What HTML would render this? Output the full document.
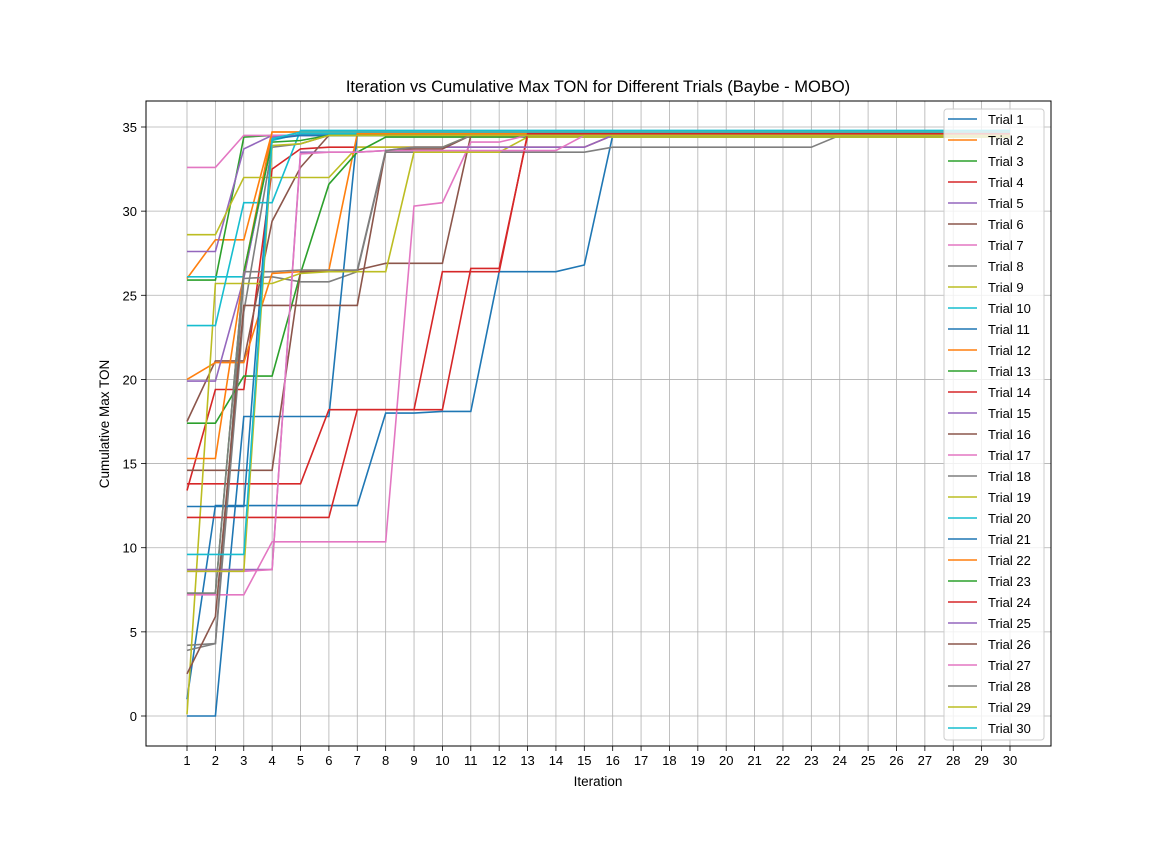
<!DOCTYPE html>
<html><head><meta charset="utf-8">
<style>
body{margin:0;background:#fff;}
svg text{font-family:"Liberation Sans","DejaVu Sans",sans-serif;}
</style></head>
<body>
<svg id="chart" width="1168" height="838" xmlns="http://www.w3.org/2000/svg">
<rect width="1168" height="838" fill="#fff"/>
<text x="598" y="92" font-size="16.5" text-anchor="middle">Iteration vs Cumulative Max TON for Different Trials (Baybe - MOBO)</text>
<text x="598" y="786" font-size="13.5" text-anchor="middle">Iteration</text>
<text x="109" y="424" font-size="13.5" text-anchor="middle" transform="rotate(-90 109 424)">Cumulative Max TON</text>
<g id="grid"></g><g id="lines"></g><g id="axes"></g><g id="legend"></g>
</svg>
<script>
const iterations = Array.from({length:30},(_,i)=>i+1);
const yTicks = [0,5,10,15,20,25,30,35];
const trialNames = Array.from({length:30},(_,i)=>'Trial '+(i+1));
const t1 = [1.0,12.5,12.5,12.5,12.5,12.5,12.5,18.0,18.0,18.1,18.1,26.4,26.4,26.4,26.8,34.5];
const t2 = [26.0,28.3,28.3,34.7,34.7];
const t3 = [25.9,25.9,34.4,34.5];
const t4 = [13.4,19.4,19.4,32.5,33.7,33.8,33.8,33.8,33.8,33.8,33.8,33.8,33.8,33.8,33.8,34.5];
const t5 = [27.6,27.6,33.7,34.5];
const t6 = [17.5,21.1,21.1,29.4,32.6,34.5];
const t7 = [32.6,32.6,34.5,34.5];
const t8 = [4.2,4.3,26.0,26.1,25.8,25.8,26.4,33.5,33.5,33.5,33.5,33.5,33.5,33.5,33.5,33.8,33.8,33.8,33.8,33.8,33.8,33.8,33.8,34.5];
const t9 = [28.6,28.6,32.0,32.0,32.0,32.0,33.8,33.8,33.8,33.8,34.5];
const t10 = [26.1,26.1,26.1,34.2,34.6];
const t11 = [0.0,0.0,17.8,17.8,17.8,17.8,34.6];
const t12 = [20.0,21.0,21.0,26.3,26.4,26.5,34.6];
const t13 = [17.4,17.4,20.2,20.2,26.3,31.6,33.5,34.4];
const t14 = [13.8,13.8,13.8,13.8,13.8,18.2,18.2,18.2,18.2,18.2,26.6,26.6,34.5];
const t15 = [19.9,19.9,26.0,34.4,34.5];
const t16 = [14.6,14.6,14.6,14.6,26.4,26.4,26.5,26.9,26.9,26.9,34.5];
const t17 = [7.2,7.2,7.2,10.35,10.35,10.35,10.35,10.35,30.3,30.5,34.1,34.1,34.5];
const t18 = [3.9,4.3,24.0,33.8,34.0,34.5];
const t19 = [0.1,25.7,25.7,25.7,26.3,26.4,26.4,26.4,33.5,33.5,33.5,33.5,34.4];
const t20 = [23.2,23.2,30.5,30.5,34.8];
const t21 = [12.45,12.45,12.45,34.3,34.5];
const t22 = [15.3,15.3,26.3,34.7];
const t23 = [7.3,7.3,26.4,34.1,34.2,34.5];
const t24 = [11.8,11.8,11.8,11.8,11.8,11.8,18.2,18.2,18.2,26.4,26.4,26.4,34.6];
const t25 = [8.7,8.7,8.7,8.7,33.5,33.5,33.5,33.6,33.8,33.8,33.8,33.8,33.8,33.8,33.8,34.5];
const t26 = [2.5,5.9,24.4,24.4,24.4,24.4,24.4,33.6,33.7,33.7,34.5];
const t27 = [8.6,8.6,8.6,8.7,33.4,33.5,33.5,33.6,33.6,33.6,33.6,33.6,33.6,33.6,34.5];
const t28 = [7.3,7.3,26.4,26.4,26.5,26.5,26.5,33.6,33.8,33.8,34.5];
const t29 = [8.6,8.6,8.6,33.9,34.0,34.5];
const t30 = [9.6,9.6,9.6,34.3,34.7];
const series = [t1,t2,t3,t4,t5,t6,t7,t8,t9,t10,t11,t12,t13,t14,t15,t16,t17,t18,t19,t20,t21,t22,t23,t24,t25,t26,t27,t28,t29,t30];
const colors = ['#1f77b4','#ff7f0e','#2ca02c','#d62728','#9467bd','#8c564b','#e377c2','#7f7f7f','#bcbd22','#17becf'];

const NS='http://www.w3.org/2000/svg';
const L=146,R=1051,T=101,B=746;
const xS=v=>187+(v-1)*(1010-187)/29;
const yS=v=>716-v*(716-127)/35;
function mk(tag,attrs,parent){const e=document.createElementNS(NS,tag);for(const k in attrs)e.setAttribute(k,attrs[k]);parent.appendChild(e);return e;}
const grid=document.getElementById('grid'),lines=document.getElementById('lines'),axes=document.getElementById('axes'),legend=document.getElementById('legend');

iterations.forEach(v=>{
  const g=mk('line',{x1:xS(v),x2:xS(v),y1:T,y2:B,stroke:'#b0b0b0','stroke-width':0.8},grid);
  
  
  const tk=mk('line',{x1:xS(v),x2:xS(v),y1:B,y2:B+5,stroke:'#000','stroke-width':0.8},axes);
  
  
  const t=mk('text',{x:xS(v),y:B+19,'font-size':13,'text-anchor':'middle'},axes);
  t.textContent=v;
  
  
});
yTicks.forEach(v=>{
  const g=mk('line',{x1:L,x2:R,y1:yS(v),y2:yS(v),stroke:'#b0b0b0','stroke-width':0.8},grid);
  
  
  const tk=mk('line',{x1:L-5,x2:L,y1:yS(v),y2:yS(v),stroke:'#000','stroke-width':0.8},axes);
  
  
  const t=mk('text',{x:L-9,y:yS(v)+5,'font-size':13,'text-anchor':'end'},axes);
  t.textContent=v;
  
  
});
const frame=mk('rect',{x:L,y:T,width:R-L,height:B-T,fill:'none',stroke:'#000','stroke-width':1},axes);



series.forEach((s,i)=>{
  const vals=iterations.map((_,k)=>k<s.length?s[k]:s[s.length-1]);
  const pts=vals.map((v,k)=>xS(iterations[k]).toFixed(1)+','+yS(v).toFixed(1)).join(' ');
  const pl=mk('polyline',{points:pts,fill:'none',stroke:colors[i%10],'stroke-width':1.6},lines);
  
  
});

const box=mk('rect',{x:944,y:109,width:100,height:631,rx:3,fill:'#fff','fill-opacity':0.8,stroke:'#ccc','stroke-width':1},legend);


trialNames.forEach((n,i)=>{
  const y=119+i*21;
  const ln=mk('line',{x1:948,x2:977,y1:y,y2:y,stroke:colors[i%10],'stroke-width':1.6},legend);
  
  
  const t=mk('text',{x:988,y:y+5,'font-size':13},legend);
  t.textContent=n;
  
  
});
</script>
</body></html>
